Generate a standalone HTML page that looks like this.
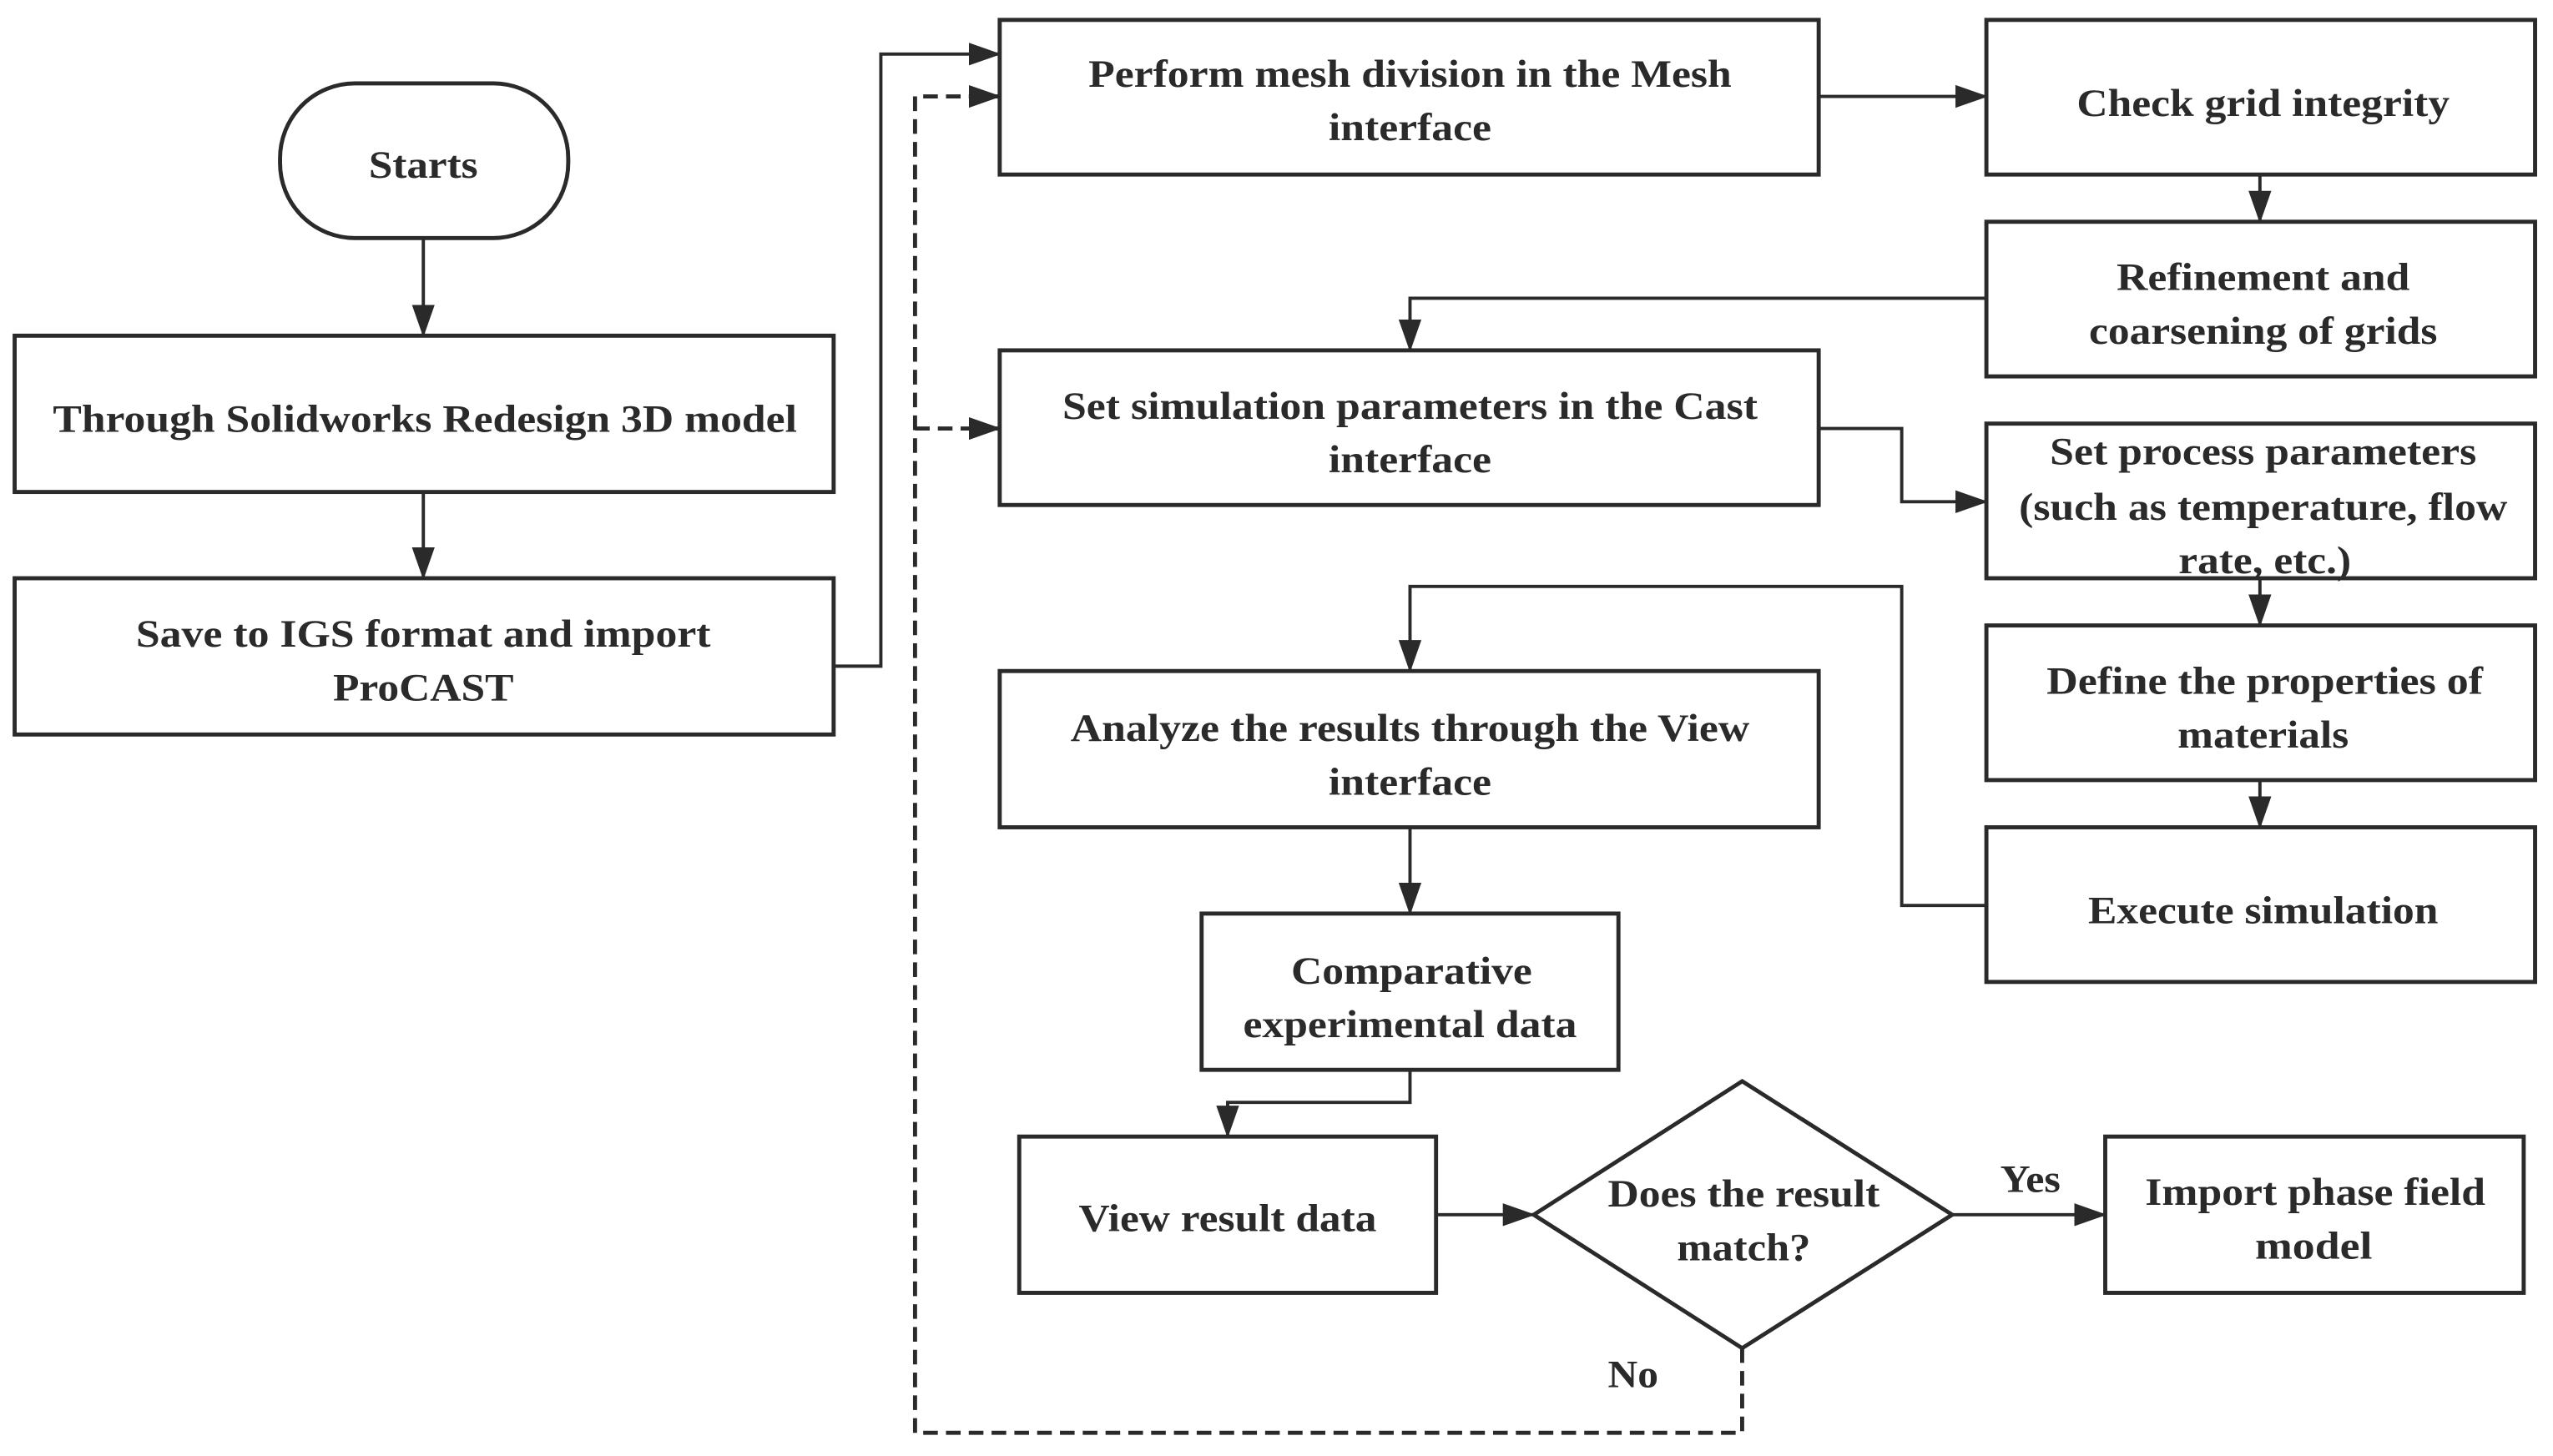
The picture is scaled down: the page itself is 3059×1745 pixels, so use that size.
<!DOCTYPE html>
<html><head><style>html,body{margin:0;padding:0;background:#fff}svg{display:block}
.t{font-family:"Liberation Serif","DejaVu Serif",serif;font-weight:bold;font-size:24px;fill:#2a2a2a}</style></head><body>
<svg width="3059" height="1745" viewBox="0 0 1568 894" xmlns="http://www.w3.org/2000/svg">
<defs>
<marker id="b" markerWidth="20" markerHeight="16" refX="19" refY="8" orient="auto" markerUnits="userSpaceOnUse" viewBox="0 0 20 16"><path d="M0,1 L20,8 L0,15 z" fill="#2a2a2a"/></marker></defs>
<g fill="none" stroke="#2a2a2a" stroke-width="2.5">
<rect x="172" y="51" width="177" height="95" rx="46"/>
<rect x="9" y="206" width="503" height="96"/>
<rect x="9" y="355" width="503" height="96"/>
<rect x="614" y="12" width="503" height="95"/>
<rect x="1220" y="12" width="337" height="95"/>
<rect x="1220" y="136" width="337" height="95"/>
<rect x="614" y="215" width="503" height="95"/>
<rect x="1220" y="260" width="337" height="95"/>
<rect x="1220" y="384" width="337" height="95"/>
<rect x="1220" y="508" width="337" height="95"/>
<rect x="614" y="412" width="503" height="96"/>
<rect x="738" y="561" width="256" height="96"/>
<rect x="626" y="698" width="256" height="96"/>
<polygon points="1070,664 1199,746 1070,828 942,746"/>
<rect x="1293" y="698" width="257" height="96"/>
</g>
<g fill="none" stroke="#2a2a2a" stroke-width="2" marker-end="url(#b)">
<path d="M260,146 V206"/>
<path d="M260,302 V355"/>
<path d="M512,409 H541 V33 H614"/>
<path d="M1117,59 H1220"/>
<path d="M1388,107 V136"/>
<path d="M1220,183 H866 V215"/>
<path d="M1117,263 H1168 V308 H1220"/>
<path d="M1388,355 V384"/>
<path d="M1388,479 V508"/>
<path d="M1220,556 H1168 V360 H866 V412"/>
<path d="M866,508 V561"/>
<path d="M866,657 V677 H754 V698"/>
<path d="M882,746 H942"/>
<path d="M1199,746 H1293"/>
</g>
<g fill="none" stroke="#2a2a2a" stroke-width="2.5" stroke-dasharray="9,5">
<path d="M1070,828 V880 H562 V59 H614" marker-end="url(#b)"/>
<path d="M562,263 H614" marker-end="url(#b)"/>
</g>
<g class="t" text-anchor="middle" lengthAdjust="spacingAndGlyphs">
<text x="260" y="109" textLength="67" lengthAdjust="spacingAndGlyphs">Starts</text>
<text x="261" y="265" textLength="457" lengthAdjust="spacingAndGlyphs">Through Solidworks Redesign 3D model</text>
<text x="260" y="397" textLength="353" lengthAdjust="spacingAndGlyphs">Save to IGS format and import</text>
<text x="260" y="430" textLength="111" lengthAdjust="spacingAndGlyphs">ProCAST</text>
<text x="866" y="53" textLength="395" lengthAdjust="spacingAndGlyphs">Perform mesh division in the Mesh</text>
<text x="866" y="86" textLength="100" lengthAdjust="spacingAndGlyphs">interface</text>
<text x="1390" y="71" textLength="229" lengthAdjust="spacingAndGlyphs">Check grid integrity</text>
<text x="1390" y="178" textLength="180" lengthAdjust="spacingAndGlyphs">Refinement and</text>
<text x="1390" y="211" textLength="214" lengthAdjust="spacingAndGlyphs">coarsening of grids</text>
<text x="866" y="257" textLength="427" lengthAdjust="spacingAndGlyphs">Set simulation parameters in the Cast</text>
<text x="866" y="290" textLength="100" lengthAdjust="spacingAndGlyphs">interface</text>
<text x="1390" y="285" textLength="262" lengthAdjust="spacingAndGlyphs">Set process parameters</text>
<text x="1390" y="319" textLength="300" lengthAdjust="spacingAndGlyphs">(such as temperature, flow</text>
<text x="1391" y="352" textLength="106" lengthAdjust="spacingAndGlyphs">rate, etc.)</text>
<text x="1391" y="426" textLength="268" lengthAdjust="spacingAndGlyphs">Define the properties of</text>
<text x="1390" y="459" textLength="105" lengthAdjust="spacingAndGlyphs">materials</text>
<text x="1390" y="567" textLength="215" lengthAdjust="spacingAndGlyphs">Execute simulation</text>
<text x="866" y="455" textLength="417" lengthAdjust="spacingAndGlyphs">Analyze the results through the View</text>
<text x="866" y="488" textLength="100" lengthAdjust="spacingAndGlyphs">interface</text>
<text x="867" y="604" textLength="148" lengthAdjust="spacingAndGlyphs">Comparative</text>
<text x="866" y="637" textLength="205" lengthAdjust="spacingAndGlyphs">experimental data</text>
<text x="754" y="756" textLength="183" lengthAdjust="spacingAndGlyphs">View result data</text>
<text x="1071" y="741" textLength="167" lengthAdjust="spacingAndGlyphs">Does the result</text>
<text x="1071" y="774" textLength="82" lengthAdjust="spacingAndGlyphs">match?</text>
<text x="1422" y="740" textLength="209" lengthAdjust="spacingAndGlyphs">Import phase field</text>
<text x="1421" y="773" textLength="72" lengthAdjust="spacingAndGlyphs">model</text>
<text x="1247" y="732" textLength="37" lengthAdjust="spacingAndGlyphs">Yes</text>
<text x="1003" y="852" textLength="31" lengthAdjust="spacingAndGlyphs">No</text>
</g>
</svg>
</body></html>
